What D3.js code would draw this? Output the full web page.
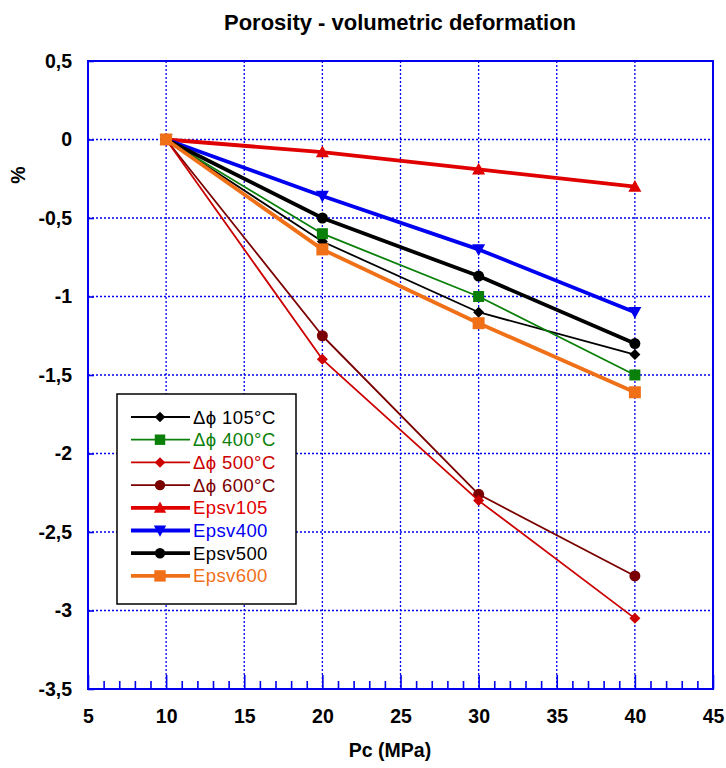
<!DOCTYPE html>
<html><head><meta charset="utf-8">
<script src="https://cdn.jsdelivr.net/npm/d3@7"></script>
<style>body{margin:0;background:#fff}svg{display:block}</style>
</head><body>
<svg id="c" width="726" height="768"></svg>
<script>
const pressures = [10, 20, 30, 40];
const dphi105 = [0, -0.65, -1.10, -1.37];
const dphi400 = [0, -0.60, -1.00, -1.50];
const dphi500 = [0, -1.40, -2.30, -3.05];
const dphi600 = [0, -1.25, -2.26, -2.78];
const epsv105 = [0, -0.08, -0.19, -0.30];
const epsv400 = [0, -0.36, -0.70, -1.10];
const epsv500 = [0, -0.50, -0.87, -1.30];
const epsv600 = [0, -0.70, -1.17, -1.61];
const xTicks = [5, 10, 15, 20, 25, 30, 35, 40, 45];
const yTicks = [0.5, 0, -0.5, -1, -1.5, -2, -2.5, -3, -3.5];
const yTickLabels = ["0,5", "0", "-0,5", "-1", "-1,5", "-2", "-2,5", "-3", "-3,5"];
const seriesNames = ["\u0394\u03D5 105°C", "\u0394\u03D5 400°C", "\u0394\u03D5 500°C", "\u0394\u03D5 600°C", "Epsv105", "Epsv400", "Epsv500", "Epsv600"];

const series = [
  {name: seriesNames[0], values: dphi105, color: "#000000", width: 1.8, marker: "diamond", size: 11},
  {name: seriesNames[1], values: dphi400, color: "#0a800a", width: 1.8, marker: "square", size: 11},
  {name: seriesNames[2], values: dphi500, color: "#cc0000", width: 1.8, marker: "diamond", size: 11},
  {name: seriesNames[3], values: dphi600, color: "#7a0000", width: 1.8, marker: "circle", size: 11},
  {name: seriesNames[4], values: epsv105, color: "#e00000", width: 3.8, marker: "triangle", size: 13},
  {name: seriesNames[5], values: epsv400, color: "#0000f0", width: 3.8, marker: "triangleDown", size: 13},
  {name: seriesNames[6], values: epsv500, color: "#000000", width: 3.8, marker: "circle", size: 11},
  {name: seriesNames[7], values: epsv600, color: "#f07018", width: 3.8, marker: "square", size: 12}
];

const svg = d3.select("#c");
const L = 88, R = 713, T = 61, B = 689;
const x = d3.scaleLinear().domain([5, 45]).range([L, R]);
const y = d3.scaleLinear().domain([-3.5, 0.5]).range([B, T]);
const blue = "#0000ee";
const bf = "Liberation Sans, Arial, sans-serif";

// grid
const g = svg.append("g");
g.selectAll(".gx").data(xTicks.slice(1, -1)).join("line")
  .attr("x1", d => x(d)).attr("x2", d => x(d)).attr("y1", T).attr("y2", B)
  .attr("stroke", blue).attr("stroke-width", 1.3).attr("stroke-dasharray", "2,2");
g.selectAll(".gy").data(yTicks.slice(0, -1)).join("line")
  .attr("y1", d => y(d)).attr("y2", d => y(d)).attr("x1", L).attr("x2", R)
  .attr("stroke", blue).attr("stroke-width", 1.3).attr("stroke-dasharray", "2,2");

// axes via d3
const xAxis = d3.axisBottom(x).tickValues(xTicks).tickFormat(d => d).tickSize(-14).tickPadding(20);
const xa = svg.append("g").attr("transform", `translate(0,${B})`).call(xAxis);
const xMinor = d3.axisBottom(x).tickValues(d3.range(5, 46, 1).filter(v => v % 5 !== 0)).tickFormat("").tickSize(-8);
const xm = svg.append("g").attr("transform", `translate(0,${B})`).call(xMinor);
const yAxis = d3.axisLeft(y).tickValues(yTicks).tickFormat((d, i) => yTickLabels[i]).tickSize(-6).tickPadding(16);
const ya = svg.append("g").attr("transform", `translate(${L},0)`).call(yAxis);
[xa, xm, ya].forEach(a => {
  a.select(".domain").remove();
  a.selectAll(".tick line").attr("stroke", blue).attr("stroke-width", 1.6);
  a.selectAll("text").attr("font-family", bf)
    .attr("font-weight", "bold").attr("font-size", 19.5).attr("fill", "#000");
});
// frame
svg.append("rect").attr("x", L).attr("y", T).attr("width", R - L).attr("height", B - T)
  .attr("fill", "none").attr("stroke", blue).attr("stroke-width", 2);

// lines
const line = d3.line().x((d, i) => x(pressures[i])).y(d => y(d));
function markerPath(type, s) {
  const h = s / 2;
  if (type === "diamond") return `M0,${-h}L${h},0L0,${h}L${-h},0Z`;
  if (type === "square") return `M${-h},${-h}H${h}V${h}H${-h}Z`;
  if (type === "triangle") return `M0,${-h}L${h},${h * 0.8}L${-h},${h * 0.8}Z`;
  if (type === "triangleDown") return `M0,${h}L${h},${-h * 0.8}L${-h},${-h * 0.8}Z`;
  return d3.symbol(d3.symbolCircle, Math.PI * h * h)();
}
const order = [3, 2, 0, 1, 4, 5, 6, 7];
order.forEach(k => {
  const s = series[k];
  svg.append("path").attr("d", line(s.values)).attr("fill", "none")
    .attr("stroke", s.color).attr("stroke-width", s.width).attr("stroke-linejoin", "round");
  svg.append("g").selectAll("path").data(s.values).join("path")
    .attr("transform", (d, i) => `translate(${x(pressures[i])},${y(d)})`)
    .attr("d", markerPath(s.marker, s.size)).attr("fill", s.color);
});

// legend
const lg = svg.append("g");
lg.append("rect").attr("x", 117).attr("y", 394).attr("width", 179).attr("height", 210)
  .attr("fill", "#fff").attr("stroke", "#000").attr("stroke-width", 1.5);
series.forEach((s, i) => {
  const yy = 417 + i * 22.7;
  lg.append("line").attr("x1", 131).attr("x2", 190).attr("y1", yy).attr("y2", yy)
    .attr("stroke", s.color).attr("stroke-width", s.width);
  lg.append("path").attr("transform", `translate(160,${yy})`).attr("d", markerPath(s.marker, s.size * 0.95)).attr("fill", s.color);
  lg.append("text").attr("x", 193).attr("y", yy + 6.5).text(s.name)
    .attr("font-family", bf).attr("font-size", 18.5).attr("letter-spacing", 0.4).attr("fill", s.color);
});

// titles
svg.append("text").attr("x", 400).attr("y", 30).attr("text-anchor", "middle").text("Porosity - volumetric deformation")
  .attr("font-family", bf).attr("font-weight", "bold").attr("font-size", 22);
svg.append("text").attr("x", 390).attr("y", 757).attr("text-anchor", "middle").text("Pc (MPa)")
  .attr("font-family", bf).attr("font-weight", "bold").attr("font-size", 19.5);
svg.append("text").attr("transform", "translate(25,175) rotate(-90)").attr("text-anchor", "middle").text("%")
  .attr("font-family", bf).attr("font-weight", "bold").attr("font-size", 19.5);
</script>
</body></html>
